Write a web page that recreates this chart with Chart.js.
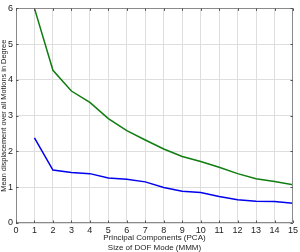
<!DOCTYPE html>
<html>
<head>
<meta charset="utf-8">
<script src="https://cdn.jsdelivr.net/npm/chart.js@4/dist/chart.umd.min.js"></script>
<style>
  html, body { margin: 0; padding: 0; background: #fff; }
  #wrap { width: 300px; height: 252px; }
</style>
</head>
<body>
<div id="wrap"><canvas id="c" width="300" height="252"></canvas></div>
<script>
const components = [1, 2, 3, 4, 5, 6, 7, 8, 9, 10, 11, 12, 13, 14, 15];
const pcaValues = [6.0, 4.27, 3.69, 3.37, 2.92, 2.58, 2.32, 2.07, 1.86, 1.72, 1.56, 1.38, 1.24, 1.16, 1.07];
const mmmValues = [2.38, 1.48, 1.41, 1.38, 1.26, 1.22, 1.15, 0.99, 0.89, 0.85, 0.74, 0.65, 0.61, 0.60, 0.55];
const xTitle = ['Principal Components (PCA)', 'Size of DOF Mode (MMM)'];
const yTitle = 'Mean displacement over all Motions in Degree';

const toPoints = (xs, ys) => xs.map((x, i) => ({ x: x, y: ys[i] }));

const boxPlugin = {
  id: 'box',
  afterDraw(chart) {
    const { ctx, chartArea: a, scales } = chart;
    ctx.save();
    ctx.strokeStyle = '#8a8a8a';
    ctx.lineWidth = 1;
    ctx.beginPath();
    ctx.rect(Math.round(a.left) + 0.5, Math.round(a.top) + 0.5,
             Math.round(a.right - a.left) - 1, Math.round(a.bottom - a.top) - 1);
    ctx.stroke();
    ctx.strokeStyle = '#555';
    ctx.beginPath();
    const tl = 2.5;
    scales.x.ticks.forEach(t => {
      const px = Math.round(scales.x.getPixelForValue(t.value)) + 0.5;
      ctx.moveTo(px, a.bottom); ctx.lineTo(px, a.bottom - tl);
      ctx.moveTo(px, a.top); ctx.lineTo(px, a.top + tl);
    });
    scales.y.ticks.forEach(t => {
      const py = Math.round(scales.y.getPixelForValue(t.value)) + 0.5;
      ctx.moveTo(a.left, py); ctx.lineTo(a.left + tl, py);
      ctx.moveTo(a.right, py); ctx.lineTo(a.right - tl, py);
    });
    ctx.stroke();
    ctx.restore();
  }
};

new Chart(document.getElementById('c'), {
  type: 'line',
  data: {
    datasets: [
      {
        label: 'PCA',
        data: toPoints(components, pcaValues),
        borderColor: '#0f7d0f',
        borderWidth: 1.5,
        pointRadius: 0,
        tension: 0,
        fill: false
      },
      {
        label: 'MMM',
        data: toPoints(components, mmmValues),
        borderColor: '#0000ee',
        borderWidth: 1.5,
        pointRadius: 0,
        tension: 0,
        fill: false
      }
    ]
  },
  options: {
    responsive: false,
    animation: false,
    devicePixelRatio: 1,
    layout: { padding: { top: 4, right: 5, bottom: 0, left: 0 } },
    plugins: { legend: { display: false }, tooltip: { enabled: false } },
    scales: {
      x: {
        type: 'linear',
        min: 0, max: 15,
        ticks: { stepSize: 1, padding: 2, color: '#222', font: { family: 'Liberation Sans', size: 9 }, maxRotation: 0, autoSkip: false },
        grid: { color: '#dedede', borderDash: [2, 2], drawTicks: false },
        border: { display: false },
        title: { display: true, text: xTitle, color: '#222', font: { family: 'Liberation Sans', size: 8, lineHeight: 1.15 }, padding: { top: 0, bottom: 0 } },
        afterFit(s) { s.height = 29; }
      },
      y: {
        type: 'linear',
        min: 0, max: 6,
        ticks: { stepSize: 1, padding: 3, color: '#222', font: { family: 'Liberation Sans', size: 9 } },
        grid: { color: '#dedede', borderDash: [2, 2], drawTicks: false },
        border: { display: false },
        title: { display: true, text: yTitle, color: '#222', font: { family: 'Liberation Sans', size: 7.4 }, padding: { top: 0, bottom: 0 } },
        afterFit(s) { s.width = 16; }
      }
    }
  },
  plugins: [boxPlugin]
});
</script>
</body>
</html>
